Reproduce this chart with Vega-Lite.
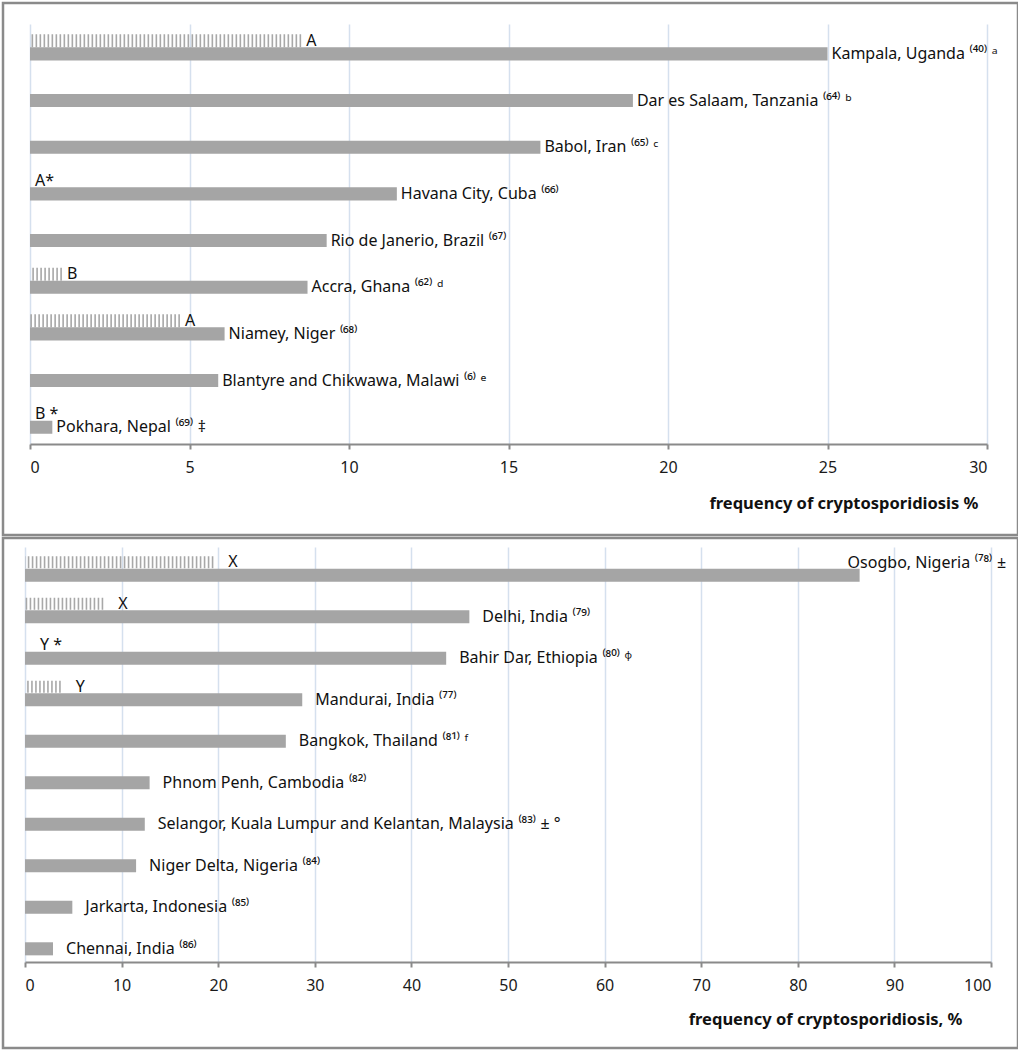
{
  "$schema": "https://vega.github.io/schema/vega-lite/v6.json",
  "padding": {"left": 1, "top": 1, "right": 0, "bottom": 0},
  "bounds": "flush",
  "spacing": 3,
  "background": "white",
  "config": {
    "font": "Noto Sans",
    "view": {"stroke": "#8a8a8a", "strokeWidth": 2.5},
    "axis": {
      "gridColor": "#d5e0ee",
      "gridWidth": 1.5,
      "domainColor": "#8a8a8a",
      "domainWidth": 2,
      "tickColor": "#8a8a8a",
      "tickWidth": 2,
      "tickSize": 5,
      "labelFontSize": 16,
      "labelColor": "#1a1a1a",
      "labelPadding": 10,
      "titleFontSize": 16.5,
      "titleFontWeight": "bold",
      "titleColor": "#111111",
      "titleAnchor": "end",
      "titleAlign": "right",
      "titleBaseline": "middle"
    }
  },
  "vconcat": [
    {
      "width": 1015,
      "height": 532,
      "data": {
        "values": [
          {"loc": "Kampala, Uganda ⁽⁴⁰⁾ ᵃ", "series": "solid", "pct": 25.0},
          {"loc": "Dar es Salaam, Tanzania ⁽⁶⁴⁾ ᵇ", "series": "solid", "pct": 18.9},
          {"loc": "Babol, Iran ⁽⁶⁵⁾ ᶜ", "series": "solid", "pct": 16.0},
          {"loc": "Havana City, Cuba ⁽⁶⁶⁾", "series": "solid", "pct": 11.5},
          {"loc": "Rio de Janerio, Brazil ⁽⁶⁷⁾", "series": "solid", "pct": 9.3},
          {"loc": "Accra, Ghana ⁽⁶²⁾ ᵈ", "series": "solid", "pct": 8.7},
          {"loc": "Niamey, Niger ⁽⁶⁸⁾", "series": "solid", "pct": 6.1},
          {"loc": "Blantyre and Chikwawa, Malawi ⁽⁶⁾ ᵉ", "series": "solid", "pct": 5.9},
          {"loc": "Pokhara, Nepal ⁽⁶⁹⁾ ‡", "series": "solid", "pct": 0.7},
          {"loc": "Kampala, Uganda ⁽⁴⁰⁾ ᵃ", "series": "hatched", "pct": 8.5, "note": "A"},
          {"loc": "Havana City, Cuba ⁽⁶⁶⁾", "series": "hatched", "pct": 0, "note": "A*"},
          {"loc": "Accra, Ghana ⁽⁶²⁾ ᵈ", "series": "hatched", "pct": 1.0, "note": "B"},
          {"loc": "Niamey, Niger ⁽⁶⁸⁾", "series": "hatched", "pct": 4.7, "note": "A"},
          {"loc": "Pokhara, Nepal ⁽⁶⁹⁾ ‡", "series": "hatched", "pct": 0, "note": "B *"}
        ]
      },
      "encoding": {
        "y": {"field": "loc", "type": "nominal", "sort": null, "axis": null,
              "scale": {"range": [21, 441], "paddingInner": 0.44, "paddingOuter": 0.22}},
        "yOffset": {"field": "series", "type": "nominal",
                    "scale": {"domain": ["hatched", "solid"], "paddingInner": 0, "paddingOuter": 0}}
      },
      "resolve": {"axis": {"x": "independent"}},
      "layer": [
        {
          "transform": [{"filter": "datum.series === 'solid'"}],
          "mark": {"type": "bar", "color": "#a5a5a5"},
          "encoding": {
            "x": {"field": "pct", "type": "quantitative",
                  "scale": {"domain": [0, 30], "range": [27, 984], "nice": false},
                  "axis": {"orient": "top", "values": [0, 5, 10, 15, 20, 25, 30], "grid": true, "labels": false, "domain": false, "ticks": false, "title": null}}
          }
        },
        {
          "transform": [{"filter": "datum.series === 'hatched'"}],
          "mark": {"type": "rule", "color": "#a8a8a8", "strokeWidth": 13, "strokeDash": [1.6, 2.4], "strokeCap": "butt"},
          "encoding": {
            "x": {"field": "pct", "type": "quantitative",
                  "axis": {"orient": "bottom", "grid": false, "values": [0, 5, 10, 15, 20, 25, 30], "offset": -91,
                           "title": "frequency of cryptosporidiosis %", "titleX": 975, "titleY": 59}},
            "x2": {"datum": 0}
          }
        },
        {
          "transform": [{"filter": "datum.series === 'solid'"}],
          "mark": {"type": "text", "align": "left", "baseline": "alphabetic", "dx": 4, "dy": 5, "fontSize": 16, "color": "#111111"},
          "encoding": {
            "x": {"field": "pct", "type": "quantitative", "axis": null},
            "text": {"field": "loc"}
          }
        },
        {
          "transform": [{"filter": "datum.series === 'hatched'"}],
          "mark": {"type": "text", "align": "left", "baseline": "alphabetic", "dx": 5, "dy": 5, "fontSize": 16, "color": "#111111"},
          "encoding": {
            "x": {"field": "pct", "type": "quantitative", "axis": null},
            "text": {"field": "note"}
          }
        }
      ]
    },
    {
      "width": 1015,
      "height": 510,
      "data": {
        "values": [
          {"loc": "Osogbo, Nigeria ⁽⁷⁸⁾ ±", "series": "solid", "pct": 86.4},
          {"loc": "Delhi, India ⁽⁷⁹⁾", "series": "solid", "pct": 46.0},
          {"loc": "Bahir Dar, Ethiopia ⁽⁸⁰⁾ ᶲ", "series": "solid", "pct": 43.6},
          {"loc": "Mandurai, India ⁽⁷⁷⁾", "series": "solid", "pct": 28.7},
          {"loc": "Bangkok, Thailand ⁽⁸¹⁾ ᶠ", "series": "solid", "pct": 27.0},
          {"loc": "Phnom Penh, Cambodia ⁽⁸²⁾", "series": "solid", "pct": 12.9},
          {"loc": "Selangor, Kuala Lumpur and Kelantan, Malaysia ⁽⁸³⁾ ± °", "series": "solid", "pct": 12.4},
          {"loc": "Niger Delta, Nigeria  ⁽⁸⁴⁾", "series": "solid", "pct": 11.5},
          {"loc": "Jarkarta, Indonesia ⁽⁸⁵⁾", "series": "solid", "pct": 4.9},
          {"loc": "Chennai, India ⁽⁸⁶⁾", "series": "solid", "pct": 2.9},
          {"loc": "Osogbo, Nigeria ⁽⁷⁸⁾ ±", "series": "hatched", "pct": 19.5, "note": "X"},
          {"loc": "Delhi, India ⁽⁷⁹⁾", "series": "hatched", "pct": 8.1, "note": "X"},
          {"loc": "Bahir Dar, Ethiopia ⁽⁸⁰⁾ ᶲ", "series": "hatched", "pct": 0, "note": "Y *"},
          {"loc": "Mandurai, India ⁽⁷⁷⁾", "series": "hatched", "pct": 3.7, "note": "Y"}
        ]
      },
      "encoding": {
        "y": {"field": "loc", "type": "nominal", "sort": null, "axis": null,
              "scale": {"range": [9, 424], "paddingInner": 0.42, "paddingOuter": 0.21}},
        "yOffset": {"field": "series", "type": "nominal",
                    "scale": {"domain": ["hatched", "solid"], "paddingInner": 0, "paddingOuter": 0}}
      },
      "resolve": {"axis": {"x": "independent"}},
      "layer": [
        {
          "transform": [{"filter": "datum.series === 'solid'"}],
          "mark": {"type": "bar", "color": "#a5a5a5"},
          "encoding": {
            "x": {"field": "pct", "type": "quantitative",
                  "scale": {"domain": [0, 100], "range": [22, 988], "nice": false},
                  "axis": {"orient": "top", "values": [0, 10, 20, 30, 40, 50, 60, 70, 80, 90, 100], "grid": true, "labels": false, "domain": false, "ticks": false, "title": null}}
          }
        },
        {
          "transform": [{"filter": "datum.series === 'hatched'"}],
          "mark": {"type": "rule", "color": "#a8a8a8", "strokeWidth": 12, "strokeDash": [1.6, 2.4], "strokeCap": "butt"},
          "encoding": {
            "x": {"field": "pct", "type": "quantitative",
                  "axis": {"orient": "bottom", "grid": false, "values": [0, 10, 20, 30, 40, 50, 60, 70, 80, 90, 100], "offset": -86,
                           "title": "frequency of cryptosporidiosis, %", "titleX": 959, "titleY": 57}},
            "x2": {"datum": 0}
          }
        },
        {
          "transform": [{"filter": "datum.series === 'solid' && datum.pct <= 80"}],
          "mark": {"type": "text", "align": "left", "baseline": "alphabetic", "dx": 13, "dy": 5, "fontSize": 16, "color": "#111111"},
          "encoding": {
            "x": {"field": "pct", "type": "quantitative", "axis": null},
            "text": {"field": "loc"}
          }
        },
        {
          "transform": [{"filter": "datum.series === 'solid' && datum.pct > 80"}],
          "mark": {"type": "text", "align": "left", "baseline": "alphabetic", "dx": -12, "dy": -7, "fontSize": 16, "color": "#111111"},
          "encoding": {
            "x": {"field": "pct", "type": "quantitative", "axis": null},
            "text": {"field": "loc"}
          }
        },
        {
          "transform": [{"filter": "datum.series === 'hatched'"}],
          "mark": {"type": "text", "align": "left", "baseline": "alphabetic", "dx": 15, "dy": 5, "fontSize": 16, "color": "#111111"},
          "encoding": {
            "x": {"field": "pct", "type": "quantitative", "axis": null},
            "text": {"field": "note"}
          }
        }
      ]
    }
  ]
}
